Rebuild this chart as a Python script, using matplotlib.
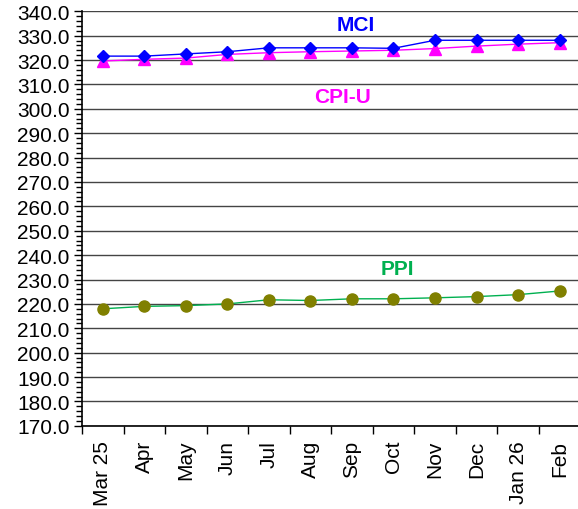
import matplotlib
matplotlib.use("Agg")
import matplotlib.pyplot as plt
from matplotlib.ticker import MultipleLocator, FixedLocator
import numpy as np

plt.rcParams['font.family'] = ['Liberation Sans', 'DejaVu Sans']

months = ["Mar 25", "Apr", "May", "Jun", "Jul", "Aug", "Sep", "Oct",
          "Nov", "Dec", "Jan 26", "Feb"]
mci = [321.6, 321.6, 322.5, 323.4, 325.0, 325.0, 325.0, 324.8,
       328.1, 328.1, 328.1, 328.1]
cpi_u = [319.6, 320.3, 320.8, 322.3, 323.0, 323.4, 323.7, 324.0,
         324.7, 325.7, 326.5, 327.1]
ppi = [218.0, 219.0, 219.3, 220.0, 221.7, 221.4, 222.1, 222.1,
       222.5, 223.0, 223.8, 225.3]

x = np.arange(len(months))

fig = plt.figure(figsize=(5.78, 5.10), dpi=100)
ax = fig.add_axes([0.142, 0.163, 0.862, 0.813])

ax.plot(x, mci, color="#0000FF", lw=1, marker="D", ms=6, zorder=4)
ax.plot(x, cpi_u, color="#FF00FF", lw=1, marker="^", ms=8, zorder=3)
ax.plot(x, ppi, color="#00B050", lw=1, marker="o", ms=8,
        markerfacecolor="#808000", markeredgecolor="#808000", zorder=3)

ax.text(6.1, 334.5, "MCI", color="#0000FF", fontsize=15, fontweight="bold",
        ha="center", va="center")
ax.text(5.78, 305.2, "CPI-U", color="#FF00FF", fontsize=15, fontweight="bold",
        ha="center", va="center")
ax.text(7.1, 234.5, "PPI", color="#00B050", fontsize=15, fontweight="bold",
        ha="center", va="center")

ax.set_ylim(170, 340)
ax.set_xlim(-0.5, 11.5)
ax.yaxis.set_major_locator(MultipleLocator(10))
ax.yaxis.set_minor_locator(MultipleLocator(2))
ax.set_yticklabels([f"{v:.1f}" for v in ax.get_yticks()])
ax.grid(axis="y", which="major", color="#444444", lw=1)

ax.set_xticks(x)
ax.set_xticklabels(months, rotation=90)
ax.xaxis.set_minor_locator(FixedLocator(np.arange(-0.5, 12, 1)))
ax.tick_params(axis="x", which="major", length=0, pad=10, labelsize=15)
ax.tick_params(axis="x", which="minor", length=6, width=1)
ax.tick_params(axis="y", which="major", length=6, width=1, labelsize=15, pad=3)
ax.tick_params(axis="y", which="minor", length=4, width=1)

for s in ["top", "right"]:
    ax.spines[s].set_visible(False)
ax.spines["left"].set_linewidth(1.2)
ax.spines["bottom"].set_linewidth(1.2)
ax.set_axisbelow(True)

fig.savefig("out.png", dpi=100)
